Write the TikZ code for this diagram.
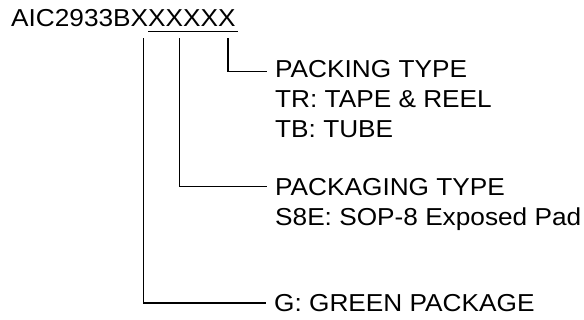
\documentclass[tikz,border=0pt]{standalone}
\usepackage{fontspec}
\setmainfont{Liberation Sans}[FakeStretch=1.07]
\begin{document}
\begin{tikzpicture}[x=1pt,y=-1pt,
  lbl/.style={anchor=base west,inner sep=0pt,font=\fontsize{24.5}{29.8}\selectfont},
  conn/.style={line width=1.6pt}]
\useasboundingbox (0,0) rectangle (584,320);
% title
\node[lbl] (title) at (11,26.7) {AIC2933BXXXXXX};
\coordinate (ulA) at (148,31.6);
\coordinate (ulB) at (237.5,31.6);
\draw[conn] (ulA) -- (ulB);
% packing type
\node[lbl] (pk1) at (275,77.7) {PACKING TYPE};
\node[lbl] (pk2) at (275,107.4) {TR: TAPE \& REEL};
\node[lbl] (pk3) at (275,137.2) {TB: TUBE};
% packaging type
\node[lbl] (pg1) at (275,196) {PACKAGING TYPE};
\node[lbl] (pg2) at (275,225.5) {S8E: SOP-8 Exposed Pad};
% green
\node[lbl] (gr) at (274,311.2) {G: GREEN PACKAGE};
% connectors
\coordinate (s1) at (228.2,38.5);
\coordinate (e1) at (266.5,71.7);
\coordinate (s2) at (179.6,38.5);
\coordinate (e2) at (266.5,186.7);
\coordinate (s3) at (143.3,38.5);
\coordinate (e3) at (265.5,303.3);
\draw[conn] (s1) |- (e1);
\draw[conn] (s2) |- (e2);
\draw[conn] (s3) |- (e3);
\end{tikzpicture}
\end{document}
